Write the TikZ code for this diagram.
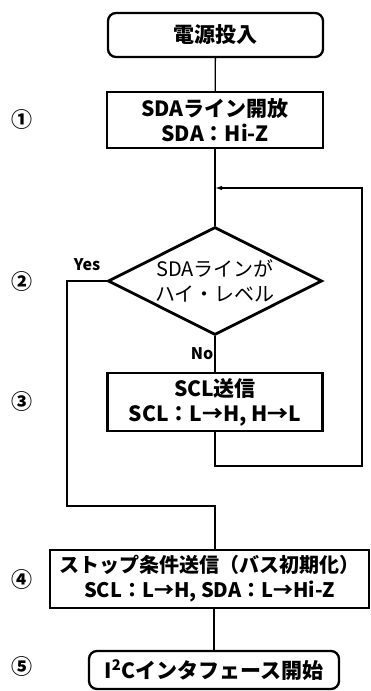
\documentclass[tikz,border=0pt]{standalone}
\usepackage{fontspec}
\setmainfont{Noto Sans CJK JP}
\usetikzlibrary{arrows.meta,shapes.geometric}
\tikzset{
  every picture/.append style={font=\fontsize{21}{25}\selectfont},
  blk/.style={rectangle, draw=black, line width=2.3pt, align=center,
              inner sep=0pt, font=\fontsize{21}{25}\selectfont\bfseries},
  trm/.style={blk, rounded corners=8pt},
  dec/.style={diamond, aspect=2, draw=black, line width=2.8pt, align=center,
              inner sep=0pt, font=\fontsize{20}{25}\selectfont},
  flow/.style={line width=1.3pt, draw=black},
  num/.style={font=\fontsize{21}{21}\selectfont\bfseries},
  lbl/.style={font=\fontsize{16}{16}\selectfont\bfseries, inner sep=1pt},
}
\begin{document}
\begin{tikzpicture}[x=1pt,y=1pt]
\useasboundingbox (0,0) rectangle (371,-691);

% ---------------- boxes ----------------
\node[trm, minimum width=215pt, minimum height=44pt] (pwr) at (215.5,-35) {電源投入};
\node[blk, minimum width=216pt, minimum height=56pt] (sda) at (215,-120) {SDAライン開放\\SDA：Hi-Z};
\node[dec, minimum width=214pt, minimum height=108pt] (chk) at (215,-281) {SDAラインが\\ハイ・レベル};
\node[blk, minimum width=215pt, minimum height=58pt] (scl) at (215,-402) {SCL送信\\SCL：L→H, H→L};
\node[blk, minimum width=319pt, minimum height=58pt, font=\fontsize{20}{25}\selectfont\bfseries]
  (stop) at (209.5,-579) {ストップ条件送信（バス初期化）\\SCL：L→H, SDA：L→Hi-Z};
\node[trm, minimum width=250pt, minimum height=38pt] (i2c) at (214,-670) {I\textsuperscript{2}Cインタフェース開始};

% ---------------- step numbers ----------------
\node[num] (n1) at (22,-120) {①};
\node[num] (n2) at (22,-282) {②};
\node[num] (n3) at (22,-402) {③};
\node[num] (n4) at (22,-580) {④};
\node[num] (n5) at (22,-667) {⑤};

% ---------------- connectors ----------------
\coordinate (join) at (215,-188);
\coordinate (fbB) at (362,-466);
\coordinate (yesB) at (67,-506);
\draw[flow] (pwr) -- (sda);
\draw[flow] (sda) -- (chk);
\draw[flow] (chk.south) -- node[lbl, left, pos=0.5] (no) {No} (scl.north);
\draw[flow, -{Latex[length=7pt,width=4.5pt]}] (scl.south) |- (fbB) |- (join);
\draw[flow] (chk.west) -| (yesB) -| (stop.north -| scl.south);
\node[lbl] (yes) at (87,-265) {Yes};
\draw[flow] (stop.south -| i2c.north) -- (i2c.north);

\end{tikzpicture}
\end{document}
